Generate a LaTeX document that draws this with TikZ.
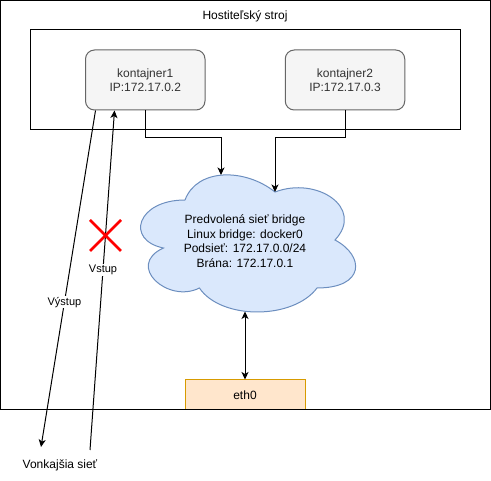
\documentclass[tikz,border=0pt]{standalone}
\usepackage{fontspec}
\setmainfont{Liberation Sans}
\usepackage{xcolor}
\usepackage{tikz}
\usetikzlibrary{arrows.meta}

\definecolor{contfill}{HTML}{F5F5F5}
\definecolor{contdraw}{HTML}{666666}
\definecolor{conttext}{HTML}{333333}
\definecolor{cloudfill}{HTML}{DAE8FC}
\definecolor{clouddraw}{HTML}{6C8EBF}
\definecolor{ethfill}{HTML}{FFE6CC}
\definecolor{ethdraw}{HTML}{D79B00}

\begin{document}
\begin{tikzpicture}[x=1pt, y=-1pt,
    every node/.style={font=\fontsize{12}{14.5}\selectfont},
    frame/.style={shape=rectangle, draw, line width=1pt, inner sep=0pt},
    cont/.style={shape=rectangle, rounded corners=9pt, draw=contdraw, fill=contfill, line width=1pt,
        text=conttext, align=center, minimum width=119.5pt, minimum height=60pt, inner sep=0pt},
    conn/.style={line width=1pt, -{Stealth[length=7.5pt, width=7pt, inset=2pt]}},
    lbl/.style={fill=white, inner sep=1pt, font=\fontsize{11}{13}\selectfont},
    cross/.style={draw=red, line width=2.5pt}]
    \useasboundingbox (0,0) rectangle (491,481);

    \node[shape=rectangle, draw=ethdraw, fill=ethfill, line width=1pt, minimum width=120pt, minimum height=30pt, inner sep=0pt] (eth) at (245,395) {eth0};
    \node[frame, minimum width=490pt, minimum height=409.5pt] (host) at (245.5,205.25) {};
    \node (title) at (245,16) {Hostiteľský stroj};
    \node[frame, minimum width=430pt, minimum height=100pt] (inner) at (245.5,80) {};

    \node[cont] (k1) at (145.25,80) {kontajner1\\IP:172.17.0.2};
    \node[cont] (k2) at (345,80) {kontajner2\\IP:172.17.0.3};

    % cloud
    \begin{scope}[shift={(125,160)}, x=240pt, y=-160pt]
      \draw[draw=clouddraw, fill=cloudfill, line width=1pt] (0.25,0.25)
        .. controls (0.05,0.25) and (0,0.5) .. (0.16,0.55)
        .. controls (0,0.66) and (0.18,0.9) .. (0.31,0.8)
        .. controls (0.4,1) and (0.7,1) .. (0.8,0.8)
        .. controls (1,0.8) and (1,0.6) .. (0.875,0.5)
        .. controls (1,0.3) and (0.8,0.1) .. (0.625,0.2)
        .. controls (0.5,0.05) and (0.3,0.05) .. (0.25,0.25) -- cycle;
    \end{scope}
    \node[align=center] (bridge) at (245,241) {Predvolená sieť bridge\\Linux bridge: docker0\\Podsieť: 172.17.0.0/24\\Brána: 172.17.0.1};
    \coordinate (ctop1) at (221,175);
    \coordinate (ctop2) at (275,192);
    \coordinate (cbot) at (245,311.5);

    \node (vonk) at (60,465) {Vonkajšia sieť};
    \coordinate (outend) at (41,447);
    \coordinate (instart) at (90,450);

    \draw[conn] (k1.south) -- ++(0,27) -| (ctop1);
    \draw[conn] (k2.south) -- ++(0,27) -| (ctop2);
    \draw[conn, {Stealth[length=7.5pt, width=7pt, inset=2pt]}-{Stealth[length=7.5pt, width=7pt, inset=2pt]}] (cbot) -- (eth.north);

    \draw[conn] ([xshift=10.5pt]k1.south west) -- (outend) node[lbl, pos=0.57] {Výstup};
    \draw[conn] (instart) -- ([xshift=29.5pt]k1.south west) node[lbl, pos=0.53] {Vstup};

    \draw[cross] (90,220) -- (121,251) (90,251) -- (121,220);
\end{tikzpicture}
\end{document}
